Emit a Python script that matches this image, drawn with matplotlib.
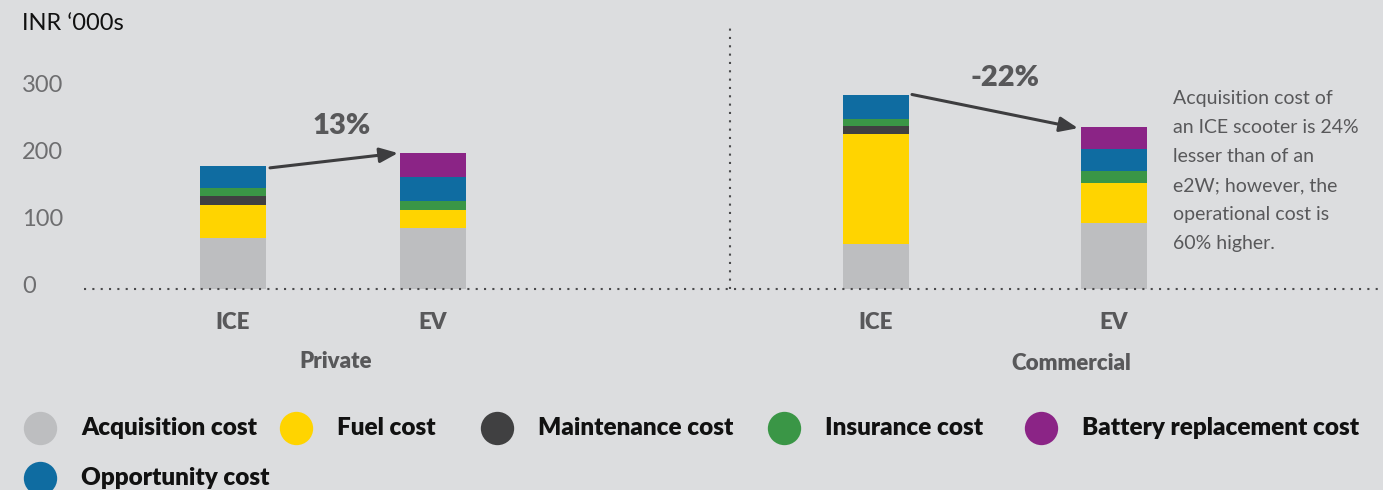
import matplotlib.pyplot as plt

# data (INR '000s)
segments = ['Acquisition cost', 'Fuel cost', 'Maintenance cost', 'Insurance cost',
            'Battery replacement cost', 'Opportunity cost']
colors = ['#bdbec0', '#ffd400', '#404041', '#3a9646', '#8b2486', '#0f6ca1']
bar_labels = ['ICE', 'EV', 'ICE', 'EV']
groups = ['Private', 'Commercial']
acquisition = [76, 91, 67, 98]
fuel = [49, 27, 163, 59]
maintenance = [13, 0, 12, 0]
insurance = [12, 13, 10, 18]
battery = [0, 36, 0, 33]
opportunity = [33, 35, 37, 33]
changes = ['13%', '-22%']
yticks = [0, 100, 200, 300]
note = ('Acquisition cost of\nan ICE scooter is 24%\nlesser than of an\n'
        'e2W; however, the\noperational cost is\n60% higher.')

# stacking order bottom -> top
stack = [acquisition, fuel, maintenance, insurance, opportunity, battery]
stack_colors = [colors[0], colors[1], colors[2], colors[3], colors[5], colors[4]]

bg = '#dcdddf'
txt = '#58585a'
plt.rcParams['font.family'] = ['Lato', 'DejaVu Sans']

fig = plt.figure(figsize=(13.83, 4.9), dpi=100)
fig.patch.set_facecolor(bg)
ax = fig.add_axes([0, 0, 1, 1])
ax.set_facecolor(bg)
ax.axis('off')
# pixel-ish x, value y (0 at baseline, 0.673 px per unit)
ax.set_xlim(0, 1383)
ax.set_ylim((289 - 490) / 0.673, 289 / 0.673)

xpos = [233, 433, 876, 1114]
width = 66

bottoms = [0, 0, 0, 0]
for vals, c in zip(stack, stack_colors):
    ax.bar(xpos, vals, width, bottom=bottoms, color=c, linewidth=0, zorder=3)
    bottoms = [b + v for b, v in zip(bottoms, vals)]
totals = bottoms

# baseline and separator
ax.plot([84, 1383], [0, 0], color='#4a4a4c', lw=1.5, ls=(0, (1, 3)), zorder=4)
ax.plot([730, 730], [0, 395], color='#4a4a4c', lw=1.5, ls=(0, (1, 3)), zorder=4)

# y ticks
for t in yticks:
    ax.text(22, t + 3, str(t), fontsize=17, color='#6e6e70', ha='left', va='center')
ax.text(22, 395, 'INR \u2018000s', fontsize=17, color='#111111', ha='left', va='center')

# bar labels
for x, lab in zip(xpos, bar_labels):
    ax.text(x, -50, lab, fontsize=16, fontweight='heavy', color=txt, ha='center', va='center')
ax.text(336, -107, groups[0], fontsize=16, fontweight='heavy', color=txt, ha='center', va='center')
ax.text(1071, -110, groups[1], fontsize=16, fontweight='heavy', color=txt, ha='center', va='center')

# arrows and changes
arrow_kw = dict(arrowstyle='-|>,head_length=1.1,head_width=0.45', color='#3d3d3f', lw=2.2,
                shrinkA=0, shrinkB=0)
ax.annotate('', xy=(xpos[1] - 35, totals[1]), xytext=(xpos[0] + 37, totals[0] - 3),
            arrowprops=arrow_kw, zorder=5)
ax.annotate('', xy=(xpos[3] - 36, totals[3] - 2), xytext=(xpos[2] + 36, totals[2]),
            arrowprops=arrow_kw, zorder=5)
ax.text(342, 242, changes[0], fontsize=21, fontweight='heavy', color=txt, ha='center', va='center')
ax.text(1005, 313, changes[1], fontsize=21, fontweight='heavy', color=txt, ha='center', va='center')

# note
ax.text(1173, 296, note, fontsize=14, color=txt, ha='left', va='top', linespacing=1.86)

# legend
leg_x = [40, 296, 497, 784, 1041, 40]
leg_y = [428, 428, 428, 428, 428, 478]
for name, c, lx, ly in zip(segments, colors, leg_x, leg_y):
    fig.add_artist(plt.Line2D([lx / 1383], [1 - ly / 490], marker='o', markersize=24,
                              color=c, markeredgewidth=0, transform=fig.transFigure))
    fig.text((lx + 41) / 1383, 1 - ly / 490, name, fontsize=17.5, fontweight='heavy',
             color='#111111', ha='left', va='center')

fig.savefig('out.png', dpi=100, facecolor=bg)
